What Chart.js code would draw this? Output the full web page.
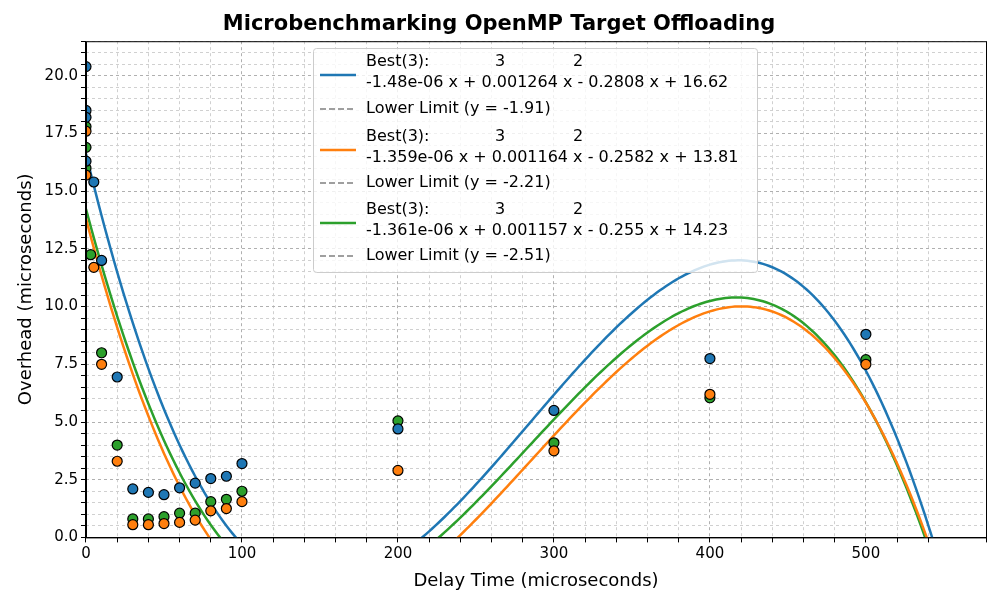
<!DOCTYPE html>
<html><head><script src="https://cdn.jsdelivr.net/npm/chart.js@4"></script>
<style>body{margin:0;background:#fff}#w{width:1000px;height:600px}</style></head>
<body><div id="w"><canvas id="c"></canvas></div>
<script>
const blueX=[0,0,0,0,5,10,20,30,40,50,60,70,80,90,100,200,300,400,500];
const blueY=[20.4,18.5,18.2,16.3,15.4,12.0,6.95,2.1,1.95,1.85,2.15,2.35,2.55,2.65,3.2,4.7,5.5,7.75,8.8];
const orangeX=[0,0,5,10,20,30,40,50,60,70,80,90,100,200,300,400,500];
const orangeY=[17.6,15.7,11.7,7.5,3.3,0.55,0.55,0.6,0.65,0.75,1.15,1.25,1.55,2.9,3.75,6.2,7.5];
const greenX=[0,0,0,3,10,20,30,40,50,60,70,80,90,100,200,300,400,500];
const greenY=[17.8,16.9,16.0,12.25,8.0,4.0,0.8,0.8,0.9,1.05,1.05,1.55,1.65,2.0,5.05,4.1,6.05,7.7];
const blueFit=[-1.48e-06,0.001264,-0.2808,16.62];
const orangeFit=[-1.359e-06,0.001164,-0.2582,13.81];
const greenFit=[-1.361e-06,0.001157,-0.255,14.23];
const limits=[-1.91,-2.21,-2.51];
const fitLabels=["-1.48e-06 x + 0.001264 x - 0.2808 x + 16.62","-1.359e-06 x + 0.001164 x - 0.2582 x + 13.81","-1.361e-06 x + 0.001157 x - 0.255 x + 14.23"];
const colors=['#1f77b4','#ff7f0e','#2ca02c'];
const fitX=[];for(let x=0;x<=560;x+=2)fitX.push(x);
const poly=(c,x)=>((c[0]*x+c[1])*x+c[2])*x+c[3];
const pts=(xs,ys)=>xs.map((x,i)=>({x,y:ys[i]}));
const fits=[blueFit,orangeFit,greenFit];
const ds=[];
fits.forEach((f,i)=>{
 ds.push({type:'line',data:fitX.map(x=>({x,y:poly(f,x)})),borderColor:colors[i],borderWidth:2.5,pointRadius:0,order:2});
 ds.push({type:'line',data:[{x:0,y:limits[i]},{x:577,y:limits[i]}],borderColor:'gray',borderDash:[6,3],borderWidth:1.5,pointRadius:0,order:2});
});
[[blueX,blueY],[orangeX,orangeY],[greenX,greenY]].forEach((s,i)=>{
 ds.push({type:'scatter',data:pts(s[0],s[1]),backgroundColor:colors[i],borderColor:'#000',borderWidth:1.2,pointRadius:5,order:1});
});
const legendPlugin={id:'lg',afterDraw(ch){
 const c=ch.ctx;c.save();
 const x0=313,y0=48,w=444,h=224;
 c.fillStyle='rgba(255,255,255,0.8)';c.strokeStyle='#ccc';c.lineWidth=1;
 c.beginPath();c.roundRect(x0+0.5,y0+0.5,w,h,3);c.fill();c.stroke();
 c.font='16px "DejaVu Sans"';c.textBaseline='middle';
 const rows=[[75,109],[150,183],[223,256]];
 rows.forEach((r,i)=>{
  const ly=r[0];
  c.strokeStyle=colors[i];c.lineWidth=2.5;c.setLineDash([]);
  c.beginPath();c.moveTo(320,ly);c.lineTo(356,ly);c.stroke();
  c.fillStyle='#000';
  c.fillText('Best(3):',366,ly-13);
  c.fillText('3',495,ly-13);c.fillText('2',573,ly-13);
  c.fillText(fitLabels[i],366,ly+8);
  c.strokeStyle='gray';c.lineWidth=1.5;c.setLineDash([6,3]);
  c.beginPath();c.moveTo(320,r[1]);c.lineTo(356,r[1]);c.stroke();
  c.fillText('Lower Limit (y = '+limits[i]+')',366,r[1]);
 });
 c.restore();
}};
const frame={id:'fr',afterDatasetsDraw(ch){const a=ch.chartArea,c=ch.ctx;c.save();c.strokeStyle='#000';c.lineWidth=1;c.strokeRect(a.left+0.5,a.top+0.5,a.right-a.left,a.bottom-a.top);c.restore();}};
const gridCol=(major)=>ctx=>{const v=ctx.tick.value;return Math.abs(v/major-Math.round(v/major))<1e-6?'#b0b0b0':'#d0d0d0'};
new Chart(document.getElementById('c'),{data:{datasets:ds},plugins:[legendPlugin,frame],
options:{responsive:true,maintainAspectRatio:false,animation:false,
layout:{padding:{left:12,right:14,top:4,bottom:4}},
plugins:{legend:{display:false},tooltip:{enabled:false},
title:{display:true,text:'Microbenchmarking OpenMP Target Offloading',font:{size:21,weight:'bold',family:'DejaVu Sans'},color:'#000',padding:{top:8,bottom:4}}},
scales:{
 x:{type:'linear',min:0,max:577,
  ticks:{stepSize:20,autoSkip:false,maxRotation:0,font:{size:15,family:'DejaVu Sans'},color:'#000',callback:v=>v%100===0?v:''},
  grid:{color:gridCol(100),tickLength:5,tickColor:'#000'},border:{color:'#000',dash:[3,3]},
  title:{display:true,text:'Delay Time (microseconds)',font:{size:18,family:'DejaVu Sans'},color:'#000'}},
 y:{min:0,max:21.5,
  ticks:{stepSize:0.5,autoSkip:false,font:{size:15,family:'DejaVu Sans'},color:'#000',callback:v=>Math.abs(v/2.5-Math.round(v/2.5))<1e-6?v.toFixed(1):''},
  grid:{color:gridCol(2.5),tickLength:5,tickColor:'#000'},border:{color:'#000',dash:[3,3]},
  title:{display:true,text:'Overhead (microseconds)',font:{size:18,family:'DejaVu Sans'},color:'#000'}}
}}});
</script></body></html>
